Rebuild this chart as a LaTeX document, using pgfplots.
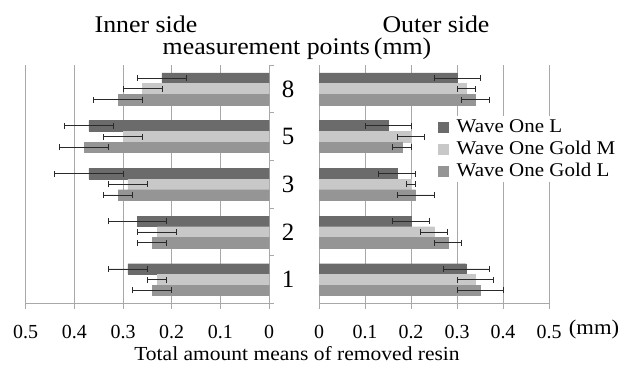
\documentclass[border=0pt]{standalone}
\usepackage{pgfplots}
\pgfplotsset{compat=1.18}
\usepackage{fontspec}
\setmainfont{Liberation Serif}
\newfontfamily\widefont{Liberation Serif}[FakeStretch=1.08]
\definecolor{cA}{HTML}{6B6B6B}
\definecolor{cB}{HTML}{C8C8C8}
\definecolor{cC}{HTML}{959595}
\definecolor{gridc}{HTML}{A8A8A8}
\definecolor{errc}{HTML}{2A2A2A}
\begin{document}
\begin{tikzpicture}[x=1bp,y=1bp]
\useasboundingbox (0,0) rectangle (636,366);
\pgfplotsset{
  common/.style={
    scale only axis, height=238.5bp, xbar, bar width=10.5bp,
    ymin=-0.5, ymax=4.5,
    xmajorgrids, grid style={gridc, line width=0.8bp},
    axis line style={gridc, line width=0.8bp},
    major tick style={gridc, line width=0.8bp},
    tick align=outside, major tick length=5bp,
    /pgf/number format/assume math mode=true,
    xticklabel style={font=\fontsize{20}{20}\selectfont, anchor=base, yshift=-30bp},
    legend image code/.code={\path[#1,draw=none] (0bp,-5.5bp) rectangle (11bp,5.5bp); \path (18bp,0bp);},
  },
  ebars/.style={error bars/.cd, x dir=both, x explicit,
    error bar style={draw=errc, line width=0.9bp},
    error mark options={rotate=90, draw=errc, line width=0.9bp, mark size=3bp}},
}
% ---------------- Inner side (plotted as negative values) ----------------
\begin{axis}[common, at={(25.7bp,62.5bp)}, anchor=south west, width=243.3bp,
  xmin=-0.5, xmax=0,
  xtick={-0.5,-0.4,-0.3,-0.2,-0.1,0},
  xticklabels={0.5,0.4,0.3,0.2,0.1,0},
  axis x line*=bottom, axis y line*=right,
  ytick={-0.5,0.5,1.5,2.5,3.5,4.5}, yticklabels={},
]
\addplot[fill=cA, draw=cA, bar shift=10.7bp, ebars] coordinates {
 (-0.29,0) +- (0.04,0)
 (-0.27,1) +- (0.06,0)
 (-0.37,2) +- (0.07,0)
 (-0.37,3) +- (0.05,0)
 (-0.22,4) +- (0.05,0)
};
\addplot[fill=cB, draw=cB, bar shift=0bp, ebars] coordinates {
 (-0.23,0) +- (0.02,0)
 (-0.23,1) +- (0.04,0)
 (-0.29,2) +- (0.04,0)
 (-0.30,3) +- (0.04,0)
 (-0.26,4) +- (0.04,0)
};
\addplot[fill=cC, draw=cC, bar shift=-10.7bp, ebars] coordinates {
 (-0.24,0) +- (0.04,0)
 (-0.24,1) +- (0.03,0)
 (-0.31,2) +- (0.03,0)
 (-0.38,3) +- (0.05,0)
 (-0.31,4) +- (0.05,0)
};
\end{axis}
% ---------------- Outer side ----------------
\begin{axis}[common, at={(319bp,62.5bp)}, anchor=south west, width=230bp,
  xmin=0, xmax=0.5,
  xtick={0,0.1,0.2,0.3,0.4,0.5},
  xticklabels={0,0.1,0.2,0.3,0.4,0.5},
  axis x line*=bottom, axis y line*=left,
  ytick={0,1,2,3,4}, yticklabels={1,2,3,5,8},
  y tick style={draw=none},
  yticklabel style={font=\fontsize{25}{25}\selectfont, anchor=center, xshift=-26bp},
  legend style={at={(0.51,0.787)}, anchor=north west, draw=none, fill=white,
    inner sep=1bp, row sep=2bp,
    nodes={inner sep=1bp, text height=14bp, text depth=4bp},
    font=\widefont\fontsize{19.5}{22}\selectfont, cells={anchor=west}},
]
\addplot[fill=cA, draw=cA, bar shift=10.7bp, ebars] coordinates {
 (0.32,0) +- (0.05,0)
 (0.20,1) +- (0.04,0)
 (0.17,2) +- (0.04,0)
 (0.15,3) +- (0.05,0)
 (0.30,4) +- (0.05,0)
};
\addlegendentry{Wave One L}
\addplot[fill=cB, draw=cB, bar shift=0bp, ebars] coordinates {
 (0.34,0) +- (0.04,0)
 (0.25,1) +- (0.03,0)
 (0.20,2) +- (0.01,0)
 (0.20,3) +- (0.03,0)
 (0.32,4) +- (0.02,0)
};
\addlegendentry{Wave One Gold M}
\addplot[fill=cC, draw=cC, bar shift=-10.7bp, ebars] coordinates {
 (0.35,0) +- (0.05,0)
 (0.28,1) +- (0.03,0)
 (0.21,2) +- (0.04,0)
 (0.18,3) +- (0.02,0)
 (0.34,4) +- (0.03,0)
};
\addlegendentry{Wave One Gold L}
\end{axis}
% ---------------- Texts ----------------
\node[anchor=base, font=\widefont\fontsize{24}{24}\selectfont, inner sep=0] at (146,334) {Inner side};
\node[anchor=base, font=\widefont\fontsize{24}{24}\selectfont, inner sep=0] at (436,334) {Outer side};
\node[anchor=base, font=\widefont\fontsize{24}{24}\selectfont, inner sep=0] at (297,312) {measurement points\,(mm)};
\node[anchor=base, font=\widefont\fontsize{20}{20}\selectfont, inner sep=0] at (297,6) {Total amount means of removed resin};
\node[anchor=base, font=\widefont\fontsize{21}{21}\selectfont, inner sep=0] at (594,32) {(mm)};
\end{tikzpicture}
\end{document}
